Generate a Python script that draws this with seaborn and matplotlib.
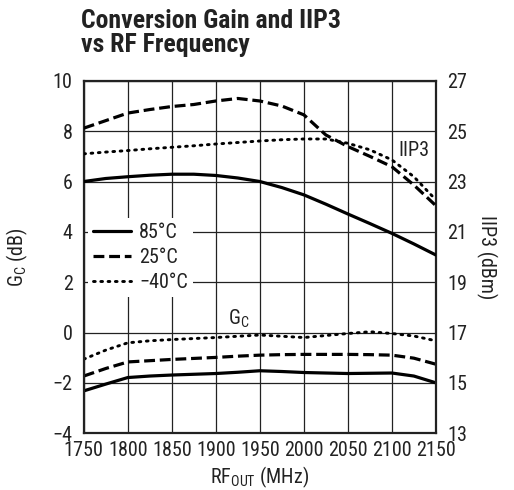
import numpy as np
import pandas as pd
import matplotlib
matplotlib.use("Agg")
import matplotlib.pyplot as plt
import seaborn as sns

# RF frequency (MHz)
freq = [1750, 1775, 1800, 1825, 1850, 1875, 1900, 1925, 1950, 1975, 2000, 2025, 2050, 2075, 2100, 2125, 2150]

# IIP3 (dBm), right axis
iip3_85 = [23.00, 23.12, 23.19, 23.25, 23.29, 23.29, 23.24, 23.14, 23.00, 22.76, 22.47, 22.10, 21.71, 21.33, 20.94, 20.52, 20.08]
iip3_25 = [25.12, 25.42, 25.72, 25.86, 25.98, 26.06, 26.20, 26.30, 26.20, 26.00, 25.65, 24.85, 24.39, 24.00, 23.59, 22.86, 22.04]
iip3_m40 = [24.10, 24.17, 24.23, 24.30, 24.36, 24.42, 24.49, 24.55, 24.61, 24.66, 24.69, 24.69, 24.52, 24.26, 23.86, 23.19, 22.27]

# Conversion gain (dB), left axis
gc_85 = [-2.32, -2.05, -1.79, -1.73, -1.69, -1.66, -1.63, -1.58, -1.52, -1.55, -1.59, -1.61, -1.63, -1.62, -1.61, -1.73, -2.00]
gc_25 = [-1.73, -1.43, -1.17, -1.12, -1.07, -1.03, -0.99, -0.94, -0.90, -0.88, -0.87, -0.87, -0.87, -0.88, -0.90, -1.02, -1.26]
gc_m40 = [-1.06, -0.70, -0.41, -0.33, -0.28, -0.24, -0.20, -0.15, -0.10, -0.15, -0.20, -0.12, -0.04, 0.03, -0.04, -0.14, -0.33]

temps = ["85°C", "25°C", "\u221240°C"]
styles = ["-", (0, (3.4, 1.5)), (0, (0.6, 1.9))]

sns.set_style("white")
plt.rcParams["font.family"] = ["Roboto Condensed", "Roboto", "DejaVu Sans"]
plt.rcParams["font.stretch"] = "condensed"
plt.rcParams["axes.unicode_minus"] = True
plt.rcParams["mathtext.fontset"] = "custom"
plt.rcParams["mathtext.rm"] = "Roboto Condensed"

fs = 14.5
ink = "#222222"

fig = plt.figure(figsize=(5.14, 4.90), dpi=100)
ax = fig.add_axes([0.163, 0.116, 0.685, 0.719])
ax2 = ax.twinx()

handles = []
for gc, iip3, ls in zip([gc_85, gc_25, gc_m40], [iip3_85, iip3_25, iip3_m40], styles):
    dotted = ls == styles[2]
    lw = 2.1 if dotted else 2.3
    cap = "round" if dotted else "butt"
    sns.lineplot(x=freq, y=gc, ax=ax, color="black", lw=lw, linestyle=ls, dash_capstyle=cap)
    sns.lineplot(x=freq, y=iip3, ax=ax2, color="black", lw=lw, linestyle=ls, dash_capstyle=cap)
    handles.append(ax.lines[-1])

ax.set_xlim(1750, 2150)
ax.set_ylim(-4, 10)
ax2.set_ylim(13, 27)
ax.set_xticks(np.arange(1750, 2151, 50))
ax.set_yticks(np.arange(-4, 11, 2))
ax2.set_yticks(np.arange(13, 28, 2))
ax.grid(True, color=ink, lw=0.9)
ax.tick_params(axis="x", length=0, labelsize=fs, pad=6, colors=ink)
ax.tick_params(axis="y", length=0, labelsize=fs, pad=8, colors=ink)
ax2.tick_params(length=0, labelsize=fs, pad=8, colors=ink)
for sp in ax.spines.values():
    sp.set_linewidth(1.6)
    sp.set_color(ink)
for sp in ax2.spines.values():
    sp.set_visible(False)

ax.set_xlabel("RF$_{\\mathregular{OUT}}$ (MHz)", fontsize=fs, labelpad=3, color=ink)
ax.set_ylabel("G$_{\\mathregular{C}}$ (dB)", fontsize=fs, labelpad=16, color=ink)
ax2.set_ylabel("IIP3 (dBm)", fontsize=fs, rotation=-90, labelpad=22, color=ink)

ax.text(2125, 7.25, "IIP3", fontsize=fs, ha="center", va="center", color=ink)
ax.text(1926, 0.55, "G$_{\\mathregular{C}}$", fontsize=fs, ha="center", va="center", color=ink)

leg = ax.legend(handles, temps, loc="upper left", bbox_to_anchor=(0.012, 0.61),
                frameon=True, fontsize=fs, handlelength=1.9, handletextpad=0.4,
                labelspacing=0.28, borderpad=0.25, borderaxespad=0)
leg.get_frame().set_edgecolor("none")
leg.get_frame().set_facecolor("white")
leg.get_frame().set_alpha(1)
leg.set_zorder(5)
for t in leg.get_texts():
    t.set_color(ink)

fig.text(0.158, 0.982, "Conversion Gain and IIP3\nvs RF Frequency", fontsize=18.5,
         fontweight="bold", ha="left", va="top", color=ink, linespacing=1.0)

fig.savefig("out.png", dpi=100)
